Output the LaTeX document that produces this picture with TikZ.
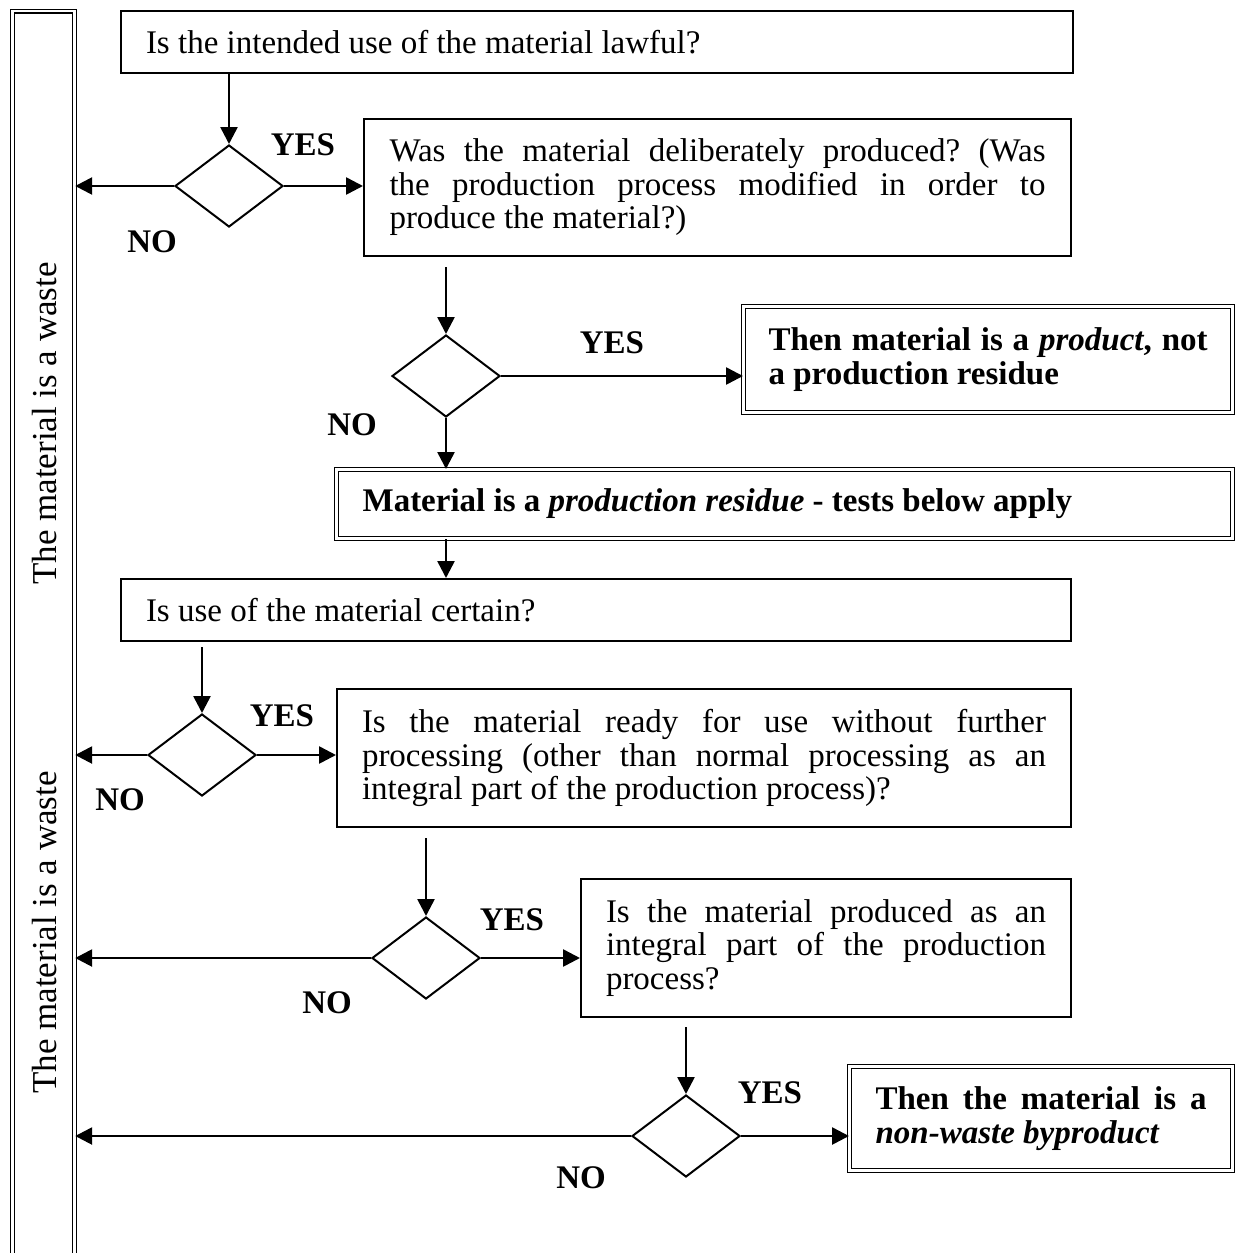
\documentclass[tikz,border=0pt]{standalone}
\usepackage{fontspec}
\setmainfont{Liberation Serif}
\frenchspacing
\usetikzlibrary{arrows.meta,shapes.geometric}
\tikzset{
  qbox/.style={draw, line width=1pt, anchor=north west, align=justify, inner xsep=12.5pt, inner ysep=0pt, font=\fontsize{16.5}{16.75}\selectfont},
  endbox/.style={qbox, line width=0.6pt, double, double distance=1.2pt, font=\fontsize{16.5}{16.75}\selectfont\bfseries},
  dec/.style={diamond, draw, line width=1pt, minimum width=54pt, minimum height=41pt, inner sep=0pt},
  flow/.style={-{Triangle[length=8.5pt,width=8.5pt]}, line width=1.3pt},
  lbl/.style={font=\fontsize{16.5}{16.75}\selectfont\bfseries, inner sep=0pt},
  wastebar/.style={draw, line width=0.6pt, double, double distance=1.2pt, anchor=north west, inner sep=0pt},
  side/.style={rotate=90, font=\fontsize{17.5}{18}\selectfont, inner sep=0pt}
}
\begin{document}
\begin{tikzpicture}[x=1pt, y=-1pt]
  \useasboundingbox (0,0) rectangle (618.5,626.5);
  \node[wastebar, minimum width=31pt, minimum height=640pt] (bar) at (6,5.25) {};
  \node[side] (w1) at (22.5,211.75) {The material is a waste};
  \node[side] (w2) at (22.5,466.25) {The material is a waste};

  \node[qbox, text width=451pt, minimum height=31pt] (q1) at (60,5) {Is the intended use of the material lawful?};
  \node[dec] (d1) at (114.5,93) {};
  \node[qbox, text width=328pt, inner xsep=12.75pt, minimum height=68.5pt] (q2) at (181.5,59)
    {Was the material deliberately produced? (Was\linebreak the production process modified in order to\linebreak produce the material?)};
  \node[dec] (d2) at (223,188) {};
  \node[endbox, text width=219.5pt, minimum height=53pt] (r1) at (371.5,153)
    {Then material is a \textit{product}, not\linebreak a production residue};
  \node[endbox, text width=422pt, inner xsep=13pt, minimum height=34.5pt] (r2) at (168,234.5)
    {Material is a \textit{production residue} - tests below apply};
  \node[qbox, text width=450pt, minimum height=31pt] (q3) at (60,289) {Is use of the material certain?};
  \node[dec] (d3) at (101,377.5) {};
  \node[qbox, text width=342pt, minimum height=69pt] (q4) at (168,344)
    {Is the material ready for use without further\linebreak processing (other than normal processing as an\linebreak integral part of the production process)?};
  \node[dec] (d4) at (213,479) {};
  \node[qbox, text width=220pt, minimum height=69pt] (q5) at (290,439)
    {Is the material produced as an\linebreak integral part of the production\linebreak process?};
  \node[dec] (d5) at (343,568) {};
  \node[endbox, text width=165.5pt, inner xsep=13pt, minimum height=52pt] (r3) at (424.5,533)
    {Then the material is a\linebreak \textit{non-waste byproduct}};

  \node[lbl] (y1) at (151.5,72.5) {YES};
  \node[lbl] (n1) at (76,121) {NO};
  \node[lbl] (y2) at (306,171.5) {YES};
  \node[lbl] (n2) at (176,212.5) {NO};
  \node[lbl] (y3) at (141,358) {YES};
  \node[lbl] (n3) at (60,400) {NO};
  \node[lbl] (y4) at (256,460) {YES};
  \node[lbl] (n4) at (163.5,501.5) {NO};
  \node[lbl] (y5) at (385,546.5) {YES};
  \node[lbl] (n5) at (290.5,589) {NO};

  \draw[flow] (q1.south -| d1.north) -- (d1.north);
  \draw[flow] (d1.west) -- (d1.west -| bar.east);
  \draw[flow] (d1.east) -- (d1.east -| q2.west);
  \draw[flow, shorten <=5pt] (q2.south -| d2.north) -- (d2.north);
  \draw[flow] (d2.east) -- (d2.east -| r1.west);
  \draw[flow] (d2.south) -- (d2.south |- r2.north);
  \draw[flow] (r2.south -| d2.south) -- (d2.south |- q3.north);
  \draw[flow, shorten <=2.5pt] (q3.south -| d3.north) -- (d3.north);
  \draw[flow] (d3.west) -- (d3.west -| bar.east);
  \draw[flow] (d3.east) -- (d3.east -| q4.west);
  \draw[flow, shorten <=5pt] (q4.south -| d4.north) -- (d4.north);
  \draw[flow] (d4.west) -- (d4.west -| bar.east);
  \draw[flow] (d4.east) -- (d4.east -| q5.west);
  \draw[flow, shorten <=4.5pt] (q5.south -| d5.north) -- (d5.north);
  \draw[flow] (d5.west) -- (d5.west -| bar.east);
  \draw[flow] (d5.east) -- (d5.east -| r3.west);
\end{tikzpicture}
\end{document}
